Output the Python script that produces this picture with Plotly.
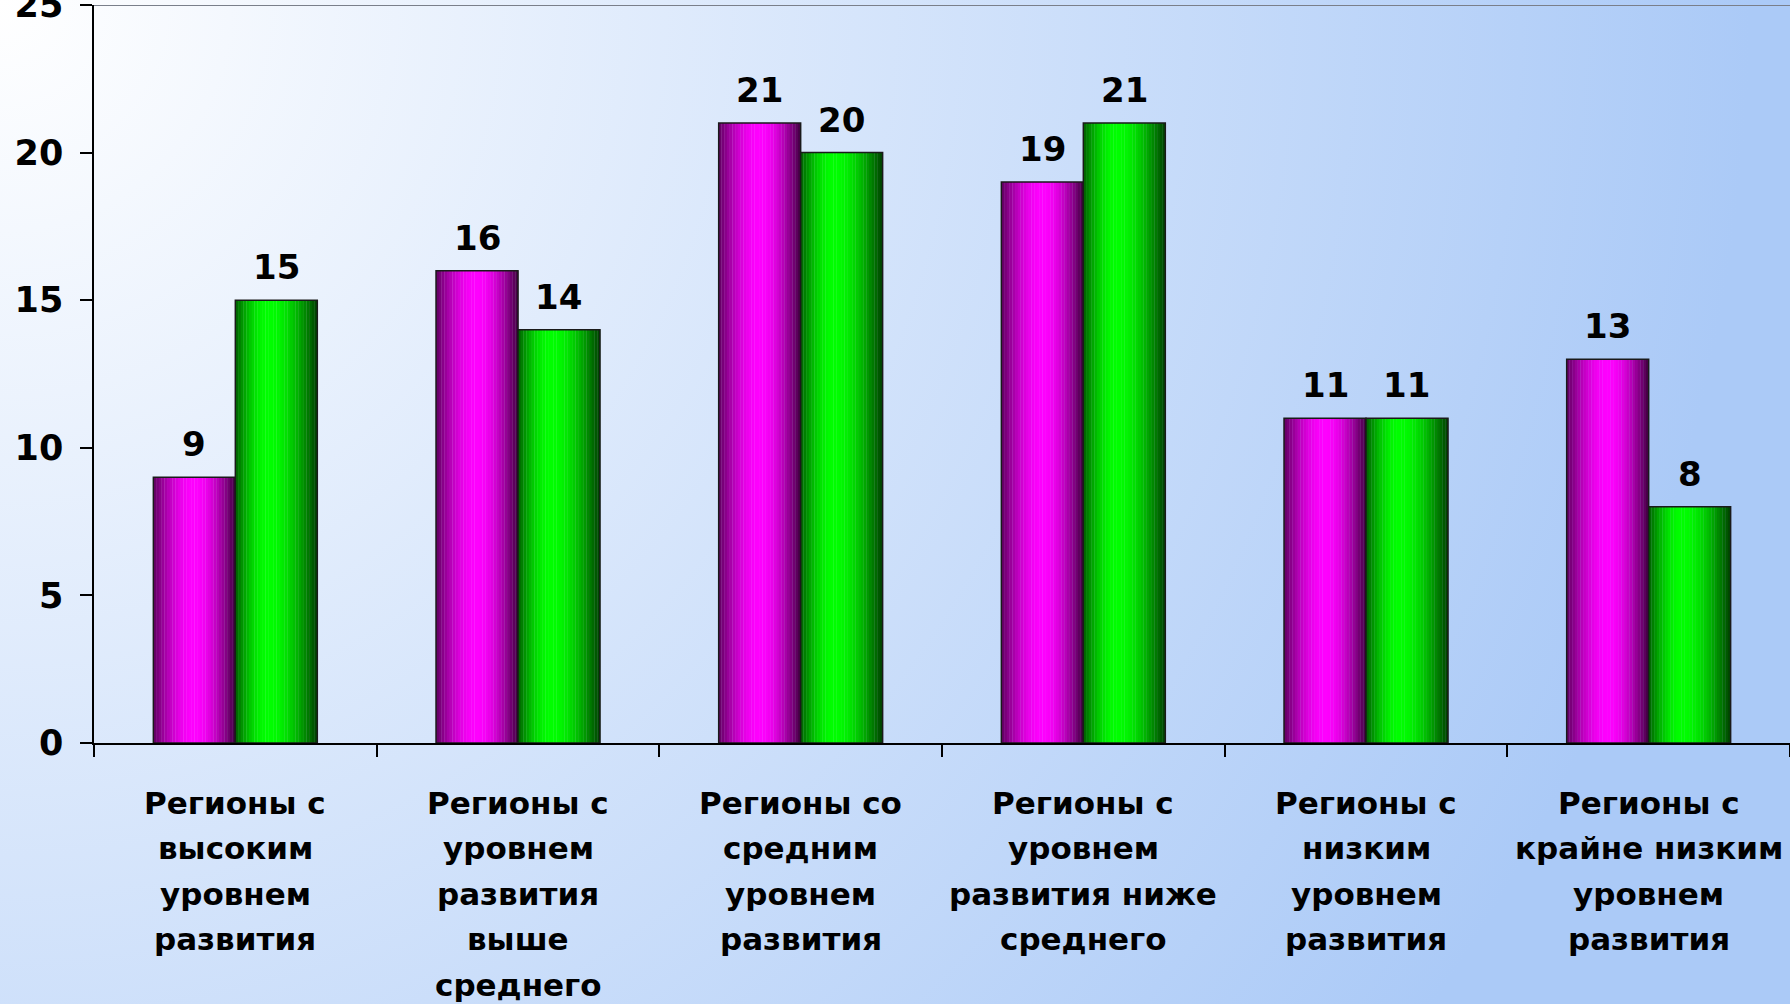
import math
import plotly.graph_objects as go

categories = [
    "Регионы с<br>высоким<br>уровнем<br>развития",
    "Регионы с<br>уровнем<br>развития<br>выше<br>среднего",
    "Регионы со<br>средним<br>уровнем<br>развития",
    "Регионы с<br>уровнем<br>развития ниже<br>среднего",
    "Регионы с<br>низким<br>уровнем<br>развития",
    "Регионы с<br>крайне низким<br>уровнем<br>развития",
]
series_a = [9, 16, 21, 19, 11, 13]
series_b = [15, 14, 20, 21, 11, 8]
y_ticks = [0, 5, 10, 15, 20, 25]

FONT = "DejaVu Sans"
BAR_W = 0.29
N_STRIPS = 30


def shade(rgb, t, peak=0.45):
    # cylinder-like shading across the bar width
    if t < peak:
        b = 0.38 + 0.62 * math.sin(math.pi / 2 * t / peak)
    else:
        b = 0.25 + 0.75 * math.cos(math.pi / 2 * (t - peak) / (1 - peak))
    r, g, bl = (int(c * b) for c in rgb)
    return f"rgb({r},{g},{bl})"


x = list(range(len(categories)))
fig = go.Figure()

for values, rgb, start, peak in [
    (series_a, (255, 0, 255), -BAR_W, 0.5),
    (series_b, (0, 255, 0), 0.0, 0.4),
]:
    sw = BAR_W / N_STRIPS
    for i in range(N_STRIPS):
        t = (i + 0.5) / N_STRIPS
        fig.add_trace(go.Bar(
            x=x, y=values, width=sw * 1.1, offset=start + i * sw,
            marker=dict(color=shade(rgb, t, peak), line=dict(width=0)),
            showlegend=False, hoverinfo="skip",
        ))
    fig.add_trace(go.Bar(
        x=x, y=values, width=BAR_W, offset=start,
        marker=dict(color="rgba(0,0,0,0)", line=dict(color="#1a1a1a", width=1.5)),
        showlegend=False,
    ))
    # value labels above the bars
    for xi, v in zip(x, values):
        fig.add_annotation(
            x=xi + start + BAR_W / 2, y=v, xref="x", yref="y", text=str(v),
            showarrow=False, yanchor="bottom", yshift=11,
            font=dict(family=FONT, size=34, color="black", weight="bold"),
        )

# multi-line category labels, spaced like the original
for i, cat in enumerate(categories):
    for j, line in enumerate(cat.split("<br>")):
        fig.add_annotation(
            x=i, y=0, xref="x", yref="y", text=line, showarrow=False,
            yanchor="middle", yshift=-(60 + j * 45.4),
            font=dict(family=FONT, size=31, color="black", weight="bold"),
        )

bg_svg = (
    "data:image/svg+xml;utf8,"
    "<svg xmlns='http://www.w3.org/2000/svg' width='1790' height='1004'>"
    "<defs><radialGradient id='g' gradientUnits='userSpaceOnUse' cx='0' cy='0' r='1750'>"
    "<stop offset='0' stop-color='%23ffffff'/>"
    "<stop offset='1' stop-color='%23abcaf7'/>"
    "</radialGradient></defs>"
    "<rect width='1790' height='1004' fill='url(%23g)'/></svg>"
)

fig.add_layout_image(
    source=bg_svg, xref="paper", yref="paper",
    x=-94 / 1696, y=1 + 5 / 738, sizex=1790 / 1696, sizey=1004 / 738,
    sizing="stretch", xanchor="left", yanchor="top", layer="below",
)

fig.add_shape(type="line", xref="paper", yref="y", x0=0, x1=1, y0=25, y1=25,
              line=dict(color="#7a7f8a", width=2))

fig.update_layout(
    width=1790, height=1004,
    margin=dict(l=94, r=0, t=5, b=261),
    paper_bgcolor="#d6e4fa", plot_bgcolor="rgba(0,0,0,0)",
    barmode="overlay", showlegend=False,
    xaxis=dict(
        range=[-0.5, 5.5], tickvals=[k - 0.5 for k in range(7)], ticktext=[""] * 7,
        ticks="outside", ticklen=12, tickcolor="black", tickwidth=1.5,
        showline=True, linecolor="black", linewidth=1.5,
        showgrid=False, zeroline=False, automargin=False,
    ),
    yaxis=dict(
        range=[0, 25], tickvals=y_ticks,
        ticks="outside", ticklen=12, tickcolor="black", tickwidth=1.5,
        showline=True, linecolor="black", linewidth=1.5,
        showgrid=False, zeroline=False, automargin=False,
        tickfont=dict(family=FONT, size=35, color="black", weight="bold"),
        ticklabelstandoff=10, ticklabeloverflow="allow",
    ),
)

fig.write_html(
    "out.html",
    config={"displayModeBar": False},
    post_script="document.body.style.margin='0';",
)
